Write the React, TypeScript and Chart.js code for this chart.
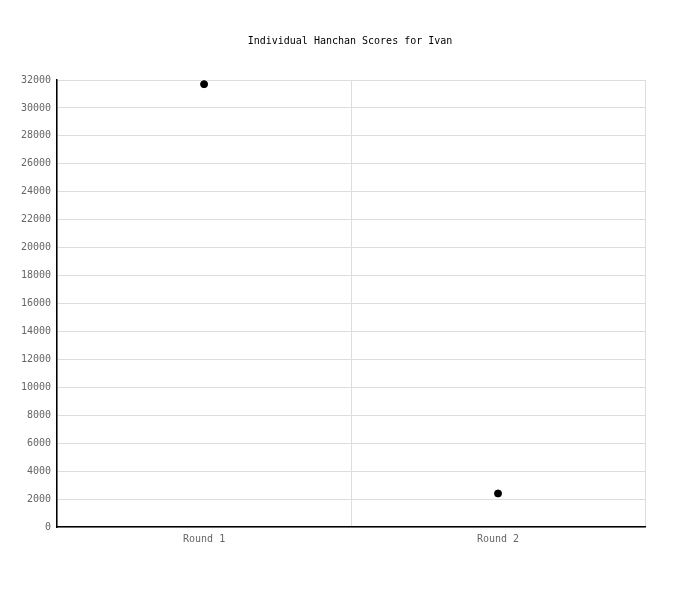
import { useEffect, useRef } from "react";
import { Chart, registerables, ChartConfiguration, Plugin } from "chart.js";

Chart.register(...registerables);

// Data
const rounds = ["Round 1", "Round 2"];
const scores = [31700, 2400];
const yTicksMax = 32000;
const yTickStep = 2000;
const titleText = "Individual Hanchan Scores for Ivan";

const FONT = "'DejaVu Sans Mono', monospace";

// title centred on the whole canvas, not on the padded layout box
const centredTitle: Plugin<"line"> = {
  id: "centredTitle",
  afterDraw(chart) {
    const c = chart.ctx;
    c.save();
    c.font = `10px ${FONT}`;
    c.fillStyle = "#000";
    c.textAlign = "center";
    c.textBaseline = "middle";
    c.fillText(titleText, chart.width / 2, 41);
    c.restore();
  },
};

export default function App() {
  const canvasRef = useRef<HTMLCanvasElement>(null);
  const chartRef = useRef<Chart | null>(null);

  useEffect(() => {
    document.body.style.margin = "0";
    if (!canvasRef.current) return;
    if (chartRef.current) chartRef.current.destroy();

    const ctx = canvasRef.current.getContext("2d");
    if (!ctx) return;

    const config: ChartConfiguration<"line"> = {
      type: "line",
      data: {
        labels: rounds,
        datasets: [
          {
            label: "Ivan",
            data: scores,
            showLine: false,
            pointRadius: 3.5,
            pointBackgroundColor: "#000",
            pointBorderColor: "#000",
            borderColor: "#000",
          },
        ],
      },
      options: {
        responsive: false,
        animation: false,
        layout: {
          padding: { left: 15, right: 55, top: 80, bottom: 49 },
        },
        plugins: {
          legend: { display: false },
          tooltip: { enabled: false },
          title: { display: false },
        },
        scales: {
          x: {
            offset: true,
            grid: {
              offset: true,
              color: "#dddddd",
              drawTicks: false,
            },
            border: { color: "#000", width: 1.5 },
            ticks: {
              color: "#666",
              padding: 6,
              font: { family: FONT, size: 10 },
            },
          },
          y: {
            min: 0,
            max: yTicksMax,
            grid: { color: "#dddddd", drawTicks: false },
            border: { color: "#000", width: 1.5 },
            ticks: {
              stepSize: yTickStep,
              color: "#666",
              padding: 6,
              font: { family: FONT, size: 10 },
              callback: (v) => String(v),
            },
          },
        },
      },
      plugins: [centredTitle],
    };

    chartRef.current = new Chart(ctx, config);

    return () => {
      if (chartRef.current) {
        chartRef.current.destroy();
        chartRef.current = null;
      }
    };
  }, []);

  return <canvas ref={canvasRef} width={700} height={600} />;
}
